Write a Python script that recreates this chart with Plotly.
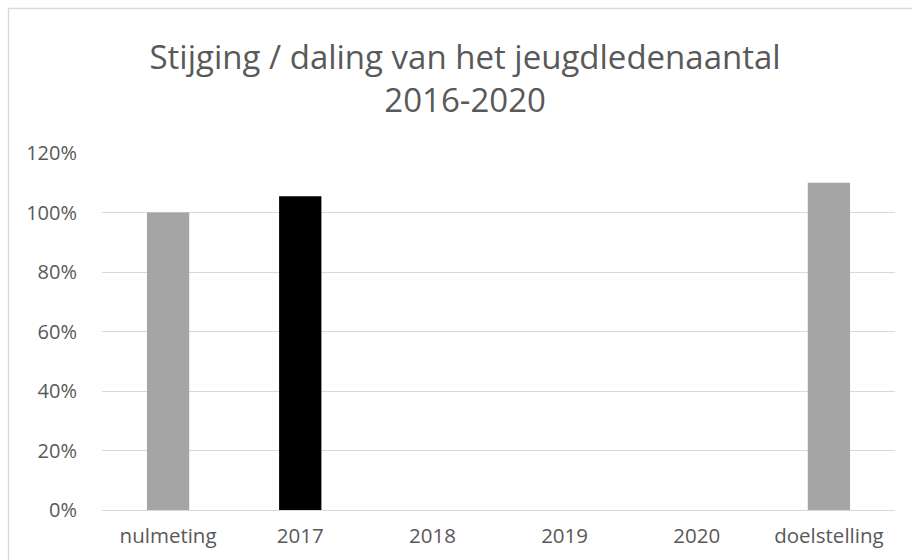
import plotly.graph_objects as go

categories = ["nulmeting", "2017", "2018", "2019", "2020", "doelstelling"]
values = [1.00, 1.055, None, None, None, 1.10]
bar_colors = ["#a5a5a5", "#000000", "#a5a5a5", "#a5a5a5", "#a5a5a5", "#a5a5a5"]
y_ticks = [0, 0.2, 0.4, 0.6, 0.8, 1.0, 1.2]
y_tick_labels = ["0%", "20%", "40%", "60%", "80%", "100%", "120%"]
title_text = "Stijging / daling van het jeugdledenaantal<br>2016-2020"

W, H = 912, 560
ml, mr, mt, mb = 102, 17, 153, 50
pw, ph = W - ml - mr, H - mt - mb
FONT = "Open Sans, Carlito, Calibri, sans-serif"

fig = go.Figure(go.Bar(
    x=categories, y=values, marker_color=bar_colors, marker_line_width=0,
    hoverinfo="skip",
))

fig.update_layout(
    width=W, height=H,
    margin=dict(l=ml, r=mr, t=mt, b=mb),
    paper_bgcolor="white", plot_bgcolor="white",
    bargap=0.68,
    showlegend=False,
    font=dict(family=FONT, color="#595959", size=20),
    title=dict(text=title_text, x=0.51, xanchor="center", y=0.877, yanchor="top",
               font=dict(size=33, color="#595959", family=FONT)),
    xaxis=dict(showgrid=False, showline=False, ticks="", ticklabelstandoff=11,
               tickfont=dict(size=20.5, color="#595959")),
    yaxis=dict(range=[0, 1.2], tickvals=y_ticks, ticktext=y_tick_labels,
               showgrid=True, gridcolor="#d9d9d9", gridwidth=1.3,
               zeroline=True, zerolinecolor="#d9d9d9", zerolinewidth=1.3,
               showline=False, ticks="", ticklabelstandoff=24,
               tickfont=dict(size=20, color="#595959")),
    shapes=[dict(type="rect", xref="paper", yref="paper",
                 x0=(8.5 - ml) / pw, x1=1 + (mr + 20) / pw,
                 y0=(-mb - 20) / ph, y1=1 + (mt - 8.5) / ph,
                 line=dict(color="#d9d9d9", width=1.3), layer="below")],
)

fig.write_html("out.html", config={"displayModeBar": False},
               post_script="document.body.style.margin='0';")
